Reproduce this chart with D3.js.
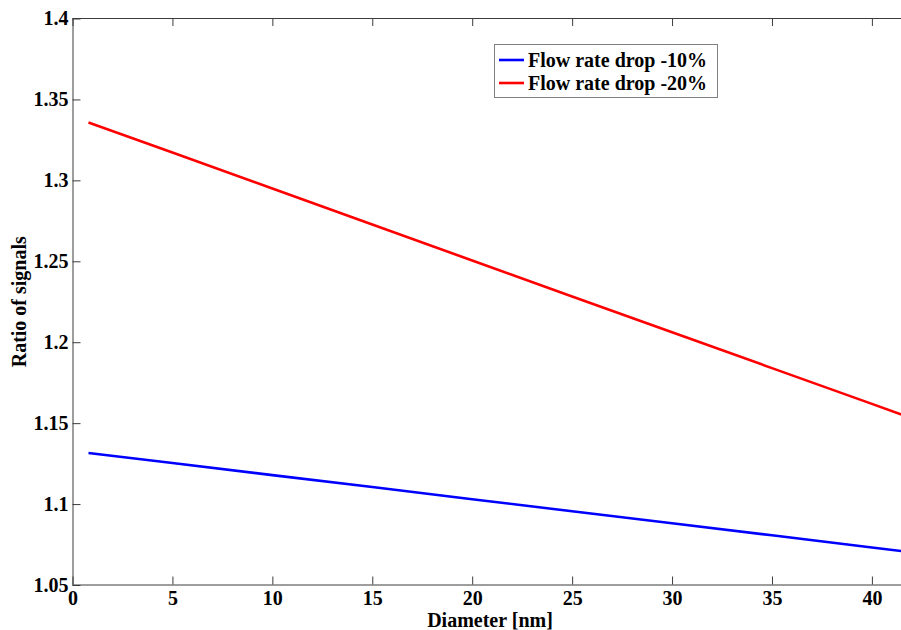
<!DOCTYPE html>
<html>
<head>
<meta charset="utf-8">
<script src="https://cdn.jsdelivr.net/npm/d3@7"></script>
<style>
  html, body { margin: 0; padding: 0; background: #fff; }
  svg { display: block; }
  text { font-family: "Liberation Serif", "Times New Roman", serif; font-weight: bold; fill: #000; }
</style>
</head>
<body>
<svg id="chart" width="901" height="630"></svg>
<script>
// Diameter samples [nm]
const diameters = [0.8, 5, 10, 15, 20, 25, 30, 35, 40, 42];
// Ratio of signals for each flow-rate drop
const drop10 = [1.1316, 1.1254, 1.1179, 1.1105, 1.1030, 1.0956, 1.0881, 1.0807, 1.0732, 1.0702];
const drop20 = [1.3357, 1.3172, 1.2950, 1.2727, 1.2505, 1.2283, 1.2062, 1.1840, 1.1619, 1.1530];
const seriesNames = ["Flow rate drop -10%", "Flow rate drop -20%"];
const seriesColors = ["#0000ff", "#ff0000"];
// Axis extents and ticks
const xDomain = [0, 45];
const yDomain = [1.05, 1.4];
const xTicks = [0, 5, 10, 15, 20, 25, 30, 35, 40];
const yTicks = [1.05, 1.1, 1.15, 1.2, 1.25, 1.3, 1.35, 1.4];
const yTickLabels = ["1.05", "1.1", "1.15", "1.2", "1.25", "1.3", "1.35", "1.4"];

const svg = d3.select("#chart");
const W = 901, H = 630;
const plotLeft = 72.5, plotTop = 18.5, plotBottom = 585;
const pxPerUnit = 19.985;

const x = d3.scaleLinear().domain(xDomain).range([plotLeft, plotLeft + (xDomain[1] - xDomain[0]) * pxPerUnit]);
const y = d3.scaleLinear().domain(yDomain).range([plotBottom, plotTop]);

svg.append("defs").append("clipPath").attr("id", "plotClip")
  .append("rect").attr("x", plotLeft).attr("y", plotTop).attr("width", W - plotLeft).attr("height", plotBottom - plotTop);

const axisColor = "#3c3c3c";
const fontSize = "20px";

// Bottom axis (ticks pointing inward)
const gx = svg.append("g")
  .call(d3.axisBottom(x).tickValues(xTicks).tickSizeInner(-8).tickSizeOuter(0).tickPadding(6).tickFormat(d3.format("d")));
// Top axis (ticks only)
const gxt = svg.append("g")
  .call(d3.axisTop(x).tickValues(xTicks).tickSizeInner(-8).tickSizeOuter(0).tickFormat(""));
// Left axis
const gy = svg.append("g").attr("transform", `translate(${plotLeft},0)`)
  .call(d3.axisLeft(y).tickValues(yTicks).tickSizeInner(-8).tickSizeOuter(0).tickPadding(4)
    .tickFormat((d, i) => yTickLabels[i]));

[gx, gxt, gy].forEach(g => {
  g.select(".domain").attr("stroke", axisColor).attr("stroke-width", 1);
  g.selectAll(".tick line").attr("stroke", axisColor).attr("stroke-width", 1);
  g.selectAll("text").style("font-family", '"Liberation Serif", serif')
    .style("font-weight", "bold").style("font-size", fontSize).attr("fill", "#000");
});
gx.selectAll("text").attr("dy", "0.71em");
gx.select(".domain").attr("d", `M${plotLeft},0.5H${W}`);
gxt.select(".domain").attr("d", `M${plotLeft},0.5H${W}`);
gxt.attr("transform", `translate(0,${plotTop - 0.5})`);
gx.attr("transform", `translate(0,${plotBottom - 0.5})`);

// Lines
const line = d3.line().x((d, i) => x(diameters[i])).y(d => y(d));
const plot = svg.append("g").attr("clip-path", "url(#plotClip)");
[drop10, drop20].forEach((vals, k) => {
  plot.append("path").datum(vals)
    .attr("fill", "none").attr("stroke", seriesColors[k])
    .attr("stroke-width", 2.6).attr("stroke-linejoin", "round")
    .attr("d", line);
});

// Axis titles
svg.append("text").attr("x", 490).attr("y", 627).attr("text-anchor", "middle")
  .style("font-size", fontSize).text("Diameter [nm]");
svg.append("text").attr("transform", `translate(26,${(plotTop + plotBottom) / 2}) rotate(-90)`)
  .attr("text-anchor", "middle").style("font-size", fontSize).text("Ratio of signals");

// Legend
const lg = svg.append("g");
lg.append("rect").attr("x", 494.5).attr("y", 44.5).attr("width", 223).attr("height", 53)
  .attr("fill", "#fff").attr("stroke", "#808080").attr("stroke-width", 1);
seriesNames.forEach((name, k) => {
  const yy = 60 + k * 23;
  lg.append("line").attr("x1", 499).attr("x2", 524).attr("y1", yy).attr("y2", yy)
    .attr("stroke", seriesColors[k]).attr("stroke-width", 2.6);
  lg.append("text").attr("x", 528).attr("y", yy).attr("dy", "0.35em")
    .style("font-size", fontSize).text(name);
});
</script>
</body>
</html>
